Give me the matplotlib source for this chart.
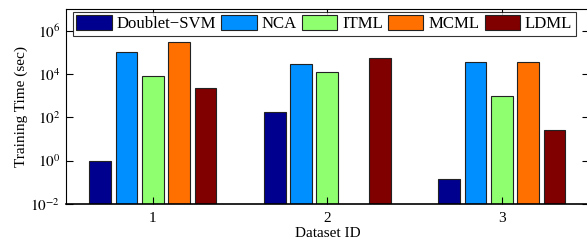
import matplotlib
matplotlib.use("Agg")
import matplotlib.pyplot as plt
import numpy as np
from matplotlib.ticker import NullLocator

plt.rcParams['font.family'] = ['Liberation Serif', 'DejaVu Serif']
plt.rcParams['mathtext.fontset'] = 'stix'

datasets = ['1', '2', '3']
methods = ['Doublet\u2212SVM', 'NCA', 'ITML', 'MCML', 'LDML']
values = {
    'Doublet\u2212SVM': [1.0, 170, 0.13],
    'NCA': [1.0e5, 3.0e4, 3.6e4],
    'ITML': [8.5e3, 1.2e4, 950],
    'MCML': [3.0e5, np.nan, 3.6e4],
    'LDML': [2.2e3, 5.5e4, 25],
}
colors = ['#00008F', '#008FFF', '#8FFF70', '#FF7000', '#800000']

fig = plt.figure(figsize=(5.87, 2.44), dpi=100)
ax = fig.add_axes([65.7/587, 1-204/244, (589-65.7)/587, (204-9)/244])

x = np.arange(1, len(datasets)+1)
step = 0.151
width = 0.125
for i, (m, c) in enumerate(zip(methods, colors)):
    off = (i - 2) * step
    ax.bar(x + off, values[m], width=width, bottom=1e-2, color=c,
           edgecolor='#222222', linewidth=0.8, label=m)

ax.set_yscale('log')
ax.set_ylim(1e-2, 1e7)
ax.set_xlim(0.5, 3.5)
ax.set_xticks(x)
ax.set_xticklabels(datasets)
ax.set_yticks([1e-2, 1e0, 1e2, 1e4, 1e6])
ax.set_yticklabels([r'$10^{-2}$', r'$10^{0}$', r'$10^{2}$', r'$10^{4}$', r'$10^{6}$'])
ax.yaxis.set_minor_locator(NullLocator())
ax.tick_params(direction='in', top=True, right=True, length=5, width=0.8,
               labelsize=11, pad=4)
ax.tick_params(axis='x', pad=6)
for s in ax.spines.values():
    s.set_linewidth(0.8)
ax.spines['bottom'].set_linewidth(1.2)

ax.set_ylabel('Training Time (sec)', fontsize=11, labelpad=2)
ax.set_xlabel('Dataset ID', fontsize=11, labelpad=1)

leg = ax.legend(loc='upper left', bbox_to_anchor=(73/587, 1-12/244),
                bbox_transform=fig.transFigure, ncol=5, fontsize=12.1,
                frameon=True, fancybox=False, edgecolor='black',
                handlelength=2.1, handleheight=0.95, handletextpad=0.3,
                columnspacing=0.3, borderpad=0.2, borderaxespad=0)
leg.get_frame().set_linewidth(0.8)

fig.savefig('out.png', dpi=100)
